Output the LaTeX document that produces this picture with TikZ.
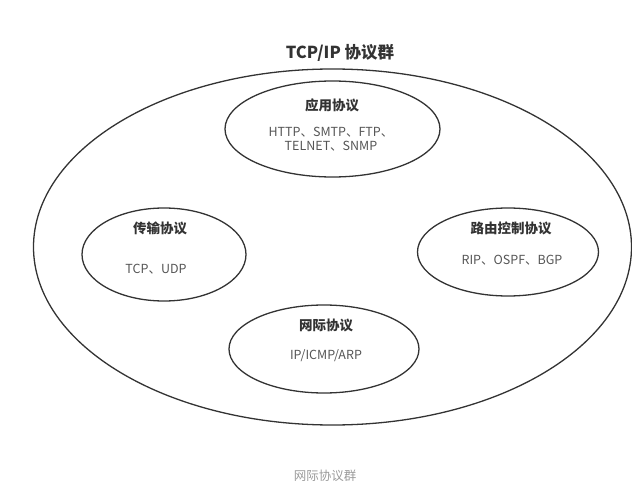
\documentclass[tikz,border=0pt]{standalone}
\usepackage{fontspec}
\setmainfont{Noto Sans CJK SC}
\usepackage{tikz}
\usetikzlibrary{shapes.geometric}
\definecolor{linegray}{HTML}{333333}
\definecolor{textgray}{HTML}{555555}
\definecolor{capgray}{HTML}{9A9A9A}
\tikzset{
  proto/.style={ellipse, draw=linegray, line width=1.3pt, inner sep=0pt},
  prototitle/.style={font=\fontsize{13.5}{16}\selectfont\bfseries, text=linegray},
  protolist/.style={font=\fontsize{12.5}{14}\selectfont, text=textgray, align=center}
}

\begin{document}
\begin{tikzpicture}[x=1pt, y=-1pt]
    \useasboundingbox (0,0) rectangle (632,497);

    % Titel oben
    \node[font=\fontsize{16.5}{20}\selectfont\bfseries, text=linegray] (suite) at (340,53) {TCP/IP 协议群};

    % Grosse Ellipse (rechts angeschnitten)
    \node[proto, minimum width=598, minimum height=356] (group) at (332.5,247) {};

    % Anwendungsschicht
    \node[proto, minimum width=215, minimum height=96] (app) at (332.5,129) {};
    \node[prototitle] (apptitle) at (332,105) {应用协议};
    \node[protolist] (applist) at (331,139) {HTTP、SMTP、FTP、\\TELNET、SNMP};

    % Transportschicht
    \node[proto, minimum width=164, minimum height=93] (trans) at (164,254.5) {};
    \node[prototitle] (transtitle) at (160,228) {传输协议};
    \node[protolist] (translist) at (156,269) {TCP、UDP};

    % Routing
    \node[proto, minimum width=181, minimum height=88] (route) at (508,252) {};
    \node[prototitle] (routetitle) at (511,228) {路由控制协议};
    \node[protolist] (routelist) at (512,260) {RIP、OSPF、BGP};

    % Vermittlungsschicht
    \node[proto, minimum width=190, minimum height=88] (net) at (324,349) {};
    \node[prototitle] (nettitle) at (326,325) {网际协议};
    \node[protolist] (netlist) at (326,356) {IP/ICMP/ARP};

    % Bildunterschrift
    \node[font=\fontsize{12.5}{14}\selectfont, text=capgray] (caption) at (325,476) {网际协议群};
\end{tikzpicture}
\end{document}
